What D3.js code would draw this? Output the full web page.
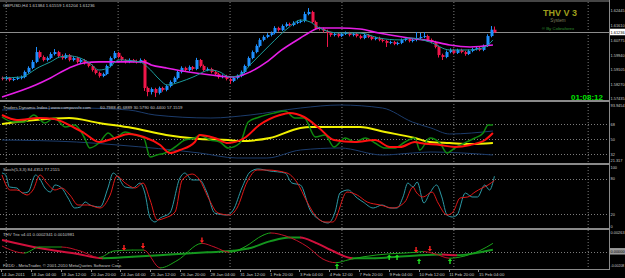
<!DOCTYPE html>
<html>
<head>
<meta charset="utf-8">
<script src="https://cdnjs.cloudflare.com/ajax/libs/d3/7.8.5/d3.min.js"></script>
<style>
  body { margin: 0; background: #000; }
  svg { display: block; font-family: 'Liberation Sans', Arial, sans-serif; }
</style>
</head>
<body>
<main></main>
<script>
// GBPUSD H4 candles, bar 0 = 14 Jan 2011 20:00
const opens = [1.5864, 1.5858, 1.5864, 1.5852, 1.5858, 1.5864, 1.5869, 1.5898, 1.5921, 1.5955, 1.6011, 1.5983, 1.5966, 1.5977, 1.6000, 1.6011, 1.5989, 1.5977, 1.5994, 1.5966, 1.5977, 1.5955, 1.5966, 1.5949, 1.5932, 1.5909, 1.5892, 1.5875, 1.5886, 1.5932, 1.5977, 1.6006, 1.5983, 1.5966, 1.5955, 1.5966, 1.5960, 1.5955, 1.5966, 1.5807, 1.5784, 1.5801, 1.5779, 1.5807, 1.5796, 1.5818, 1.5841, 1.5864, 1.5898, 1.5921, 1.5909, 1.5926, 1.5915, 1.5966, 1.5932, 1.5909, 1.5915, 1.5898, 1.5886, 1.5869, 1.5875, 1.5858, 1.5847, 1.5864, 1.5875, 1.5898, 1.5932, 1.5977, 1.6011, 1.6046, 1.6080, 1.6097, 1.6108, 1.6119, 1.6148, 1.6136, 1.6159, 1.6170, 1.6165, 1.6176, 1.6182, 1.6188, 1.6227, 1.6239, 1.6182, 1.6148, 1.6142, 1.6131, 1.6119, 1.6108, 1.6114, 1.6102, 1.6114, 1.6119, 1.6108, 1.6114, 1.6102, 1.6091, 1.6108, 1.6097, 1.6085, 1.6091, 1.6080, 1.6074, 1.6063, 1.6068, 1.6057, 1.6063, 1.6080, 1.6085, 1.6074, 1.6080, 1.6091, 1.6097, 1.6102, 1.6080, 1.6068, 1.6040, 1.5994, 1.5983, 1.6011, 1.6023, 1.6006, 1.6023, 1.6011, 1.6000, 1.6017, 1.6028, 1.6034, 1.6023, 1.6046, 1.6102, 1.6138]
const highs = [1.5872, 1.5875, 1.5870, 1.5866, 1.5872, 1.5878, 1.5906, 1.5930, 1.5966, 1.6040, 1.6020, 1.5992, 1.5986, 1.6010, 1.6028, 1.6018, 1.5998, 1.6004, 1.6000, 1.5986, 1.5984, 1.5975, 1.5972, 1.5956, 1.5940, 1.5916, 1.5900, 1.5894, 1.5940, 1.5986, 1.6017, 1.6012, 1.5990, 1.5972, 1.5975, 1.5972, 1.5968, 1.5975, 1.5972, 1.5815, 1.5810, 1.5808, 1.5815, 1.5814, 1.5826, 1.5850, 1.5872, 1.5906, 1.5930, 1.5928, 1.5935, 1.5932, 1.5978, 1.5972, 1.5940, 1.5924, 1.5922, 1.5905, 1.5893, 1.5884, 1.5882, 1.5865, 1.5872, 1.5884, 1.5906, 1.5940, 1.5986, 1.6020, 1.6055, 1.6090, 1.6106, 1.6118, 1.6128, 1.6158, 1.6155, 1.6168, 1.6180, 1.6178, 1.6186, 1.6190, 1.6196, 1.6240, 1.6261, 1.6246, 1.6190, 1.6155, 1.6150, 1.6138, 1.6126, 1.6122, 1.6120, 1.6122, 1.6128, 1.6126, 1.6122, 1.6120, 1.6110, 1.6116, 1.6114, 1.6104, 1.6098, 1.6098, 1.6087, 1.6080, 1.6076, 1.6075, 1.6070, 1.6088, 1.6094, 1.6092, 1.6088, 1.6125, 1.6120, 1.6125, 1.6110, 1.6088, 1.6075, 1.6048, 1.6002, 1.6020, 1.6032, 1.6030, 1.6030, 1.6030, 1.6018, 1.6025, 1.6036, 1.6042, 1.6040, 1.6054, 1.6112, 1.6159, 1.6156]
const lows = [1.5850, 1.5852, 1.5844, 1.5846, 1.5852, 1.5856, 1.5862, 1.5890, 1.5914, 1.5948, 1.5975, 1.5958, 1.5958, 1.5970, 1.5992, 1.5980, 1.5968, 1.5970, 1.5958, 1.5958, 1.5946, 1.5948, 1.5940, 1.5924, 1.5900, 1.5884, 1.5866, 1.5868, 1.5880, 1.5925, 1.5970, 1.5975, 1.5958, 1.5946, 1.5948, 1.5952, 1.5946, 1.5948, 1.5790, 1.5760, 1.5770, 1.5756, 1.5770, 1.5786, 1.5788, 1.5810, 1.5834, 1.5856, 1.5890, 1.5900, 1.5902, 1.5906, 1.5908, 1.5924, 1.5900, 1.5902, 1.5890, 1.5878, 1.5860, 1.5862, 1.5850, 1.5830, 1.5840, 1.5856, 1.5868, 1.5890, 1.5925, 1.5970, 1.6004, 1.6038, 1.6072, 1.6090, 1.6100, 1.6112, 1.6128, 1.6130, 1.6152, 1.6158, 1.6158, 1.6170, 1.6175, 1.6180, 1.6220, 1.6175, 1.6140, 1.6134, 1.6122, 1.6040, 1.6098, 1.6100, 1.6094, 1.6096, 1.6108, 1.6100, 1.6100, 1.6094, 1.6084, 1.6084, 1.6090, 1.6078, 1.6078, 1.6072, 1.6066, 1.6040, 1.6056, 1.6050, 1.6050, 1.6056, 1.6072, 1.6066, 1.6066, 1.6072, 1.6084, 1.6090, 1.6072, 1.6060, 1.6032, 1.5980, 1.5966, 1.5976, 1.6004, 1.5998, 1.6000, 1.6004, 1.5990, 1.5994, 1.6010, 1.6020, 1.6016, 1.6016, 1.6040, 1.6095, 1.6120]
const closes = [1.5858, 1.5864, 1.5852, 1.5858, 1.5864, 1.5869, 1.5898, 1.5921, 1.5955, 1.6011, 1.5983, 1.5966, 1.5977, 1.6000, 1.6011, 1.5989, 1.5977, 1.5994, 1.5966, 1.5977, 1.5955, 1.5966, 1.5949, 1.5932, 1.5909, 1.5892, 1.5875, 1.5886, 1.5932, 1.5977, 1.6006, 1.5983, 1.5966, 1.5955, 1.5966, 1.5960, 1.5955, 1.5966, 1.5807, 1.5784, 1.5801, 1.5779, 1.5807, 1.5796, 1.5818, 1.5841, 1.5864, 1.5898, 1.5921, 1.5909, 1.5926, 1.5915, 1.5966, 1.5932, 1.5909, 1.5915, 1.5898, 1.5886, 1.5869, 1.5875, 1.5858, 1.5847, 1.5864, 1.5875, 1.5898, 1.5932, 1.5977, 1.6011, 1.6046, 1.6080, 1.6097, 1.6108, 1.6119, 1.6148, 1.6136, 1.6159, 1.6170, 1.6165, 1.6176, 1.6182, 1.6188, 1.6227, 1.6239, 1.6182, 1.6148, 1.6142, 1.6131, 1.6119, 1.6108, 1.6114, 1.6102, 1.6114, 1.6119, 1.6108, 1.6114, 1.6102, 1.6091, 1.6108, 1.6097, 1.6085, 1.6091, 1.6080, 1.6074, 1.6063, 1.6068, 1.6057, 1.6063, 1.6080, 1.6085, 1.6074, 1.6080, 1.6091, 1.6097, 1.6102, 1.6080, 1.6068, 1.6040, 1.5994, 1.5983, 1.6011, 1.6023, 1.6006, 1.6023, 1.6011, 1.6000, 1.6017, 1.6028, 1.6034, 1.6023, 1.6046, 1.6102, 1.6138, 1.61236]

// moving averages, [bar, price]
const fastMA = [[0, 1.5864], [5, 1.5869], [10, 1.5926], [13, 1.5955], [15.5, 1.5983], [18, 1.5989], [21, 1.5977], [23.5, 1.5949], [26, 1.5909], [29, 1.5926], [30.3, 1.5955], [31.6, 1.5966], [37, 1.5955], [39, 1.5926], [42.4, 1.5852], [44.2, 1.5824], [47.7, 1.5841], [51.2, 1.5869], [55.8, 1.5909], [58.4, 1.5898], [61, 1.5869], [63.8, 1.5881], [66.5, 1.5938], [71.8, 1.6051], [77, 1.6153], [80, 1.6193], [82.6, 1.6182], [85, 1.6148], [90.6, 1.6119], [96, 1.6119], [101, 1.6091], [106.7, 1.6080], [109.4, 1.6091], [114.7, 1.6068], [120, 1.6023], [125.5, 1.6023], [129.5, 1.6040], [131.6, 1.6080]]
const slowMA = [[0, 1.5756], [9, 1.5824], [13, 1.5864], [18, 1.5921], [22, 1.5949], [26, 1.5955], [38, 1.5955], [40, 1.5938], [44, 1.5921], [50, 1.5898], [56, 1.5881], [62, 1.5869], [66.5, 1.5898], [71, 1.5955], [75, 1.6023], [80, 1.6091], [82.6, 1.6125], [85, 1.6148], [90.6, 1.6148], [96, 1.6142], [101, 1.6119], [109, 1.6091], [115, 1.6074], [120, 1.6051], [125.5, 1.6040], [131.6, 1.6051]]
const priceTicks = [1.62445, 1.61610, 1.60775, 1.59940, 1.59105, 1.58270, 1.57435]
const lastPrice = 1.61236

// Traders Dynamic Index, [bar, value]
const tdiUpper = [[0, 84.8], [20, 87.2], [34, 84.8], [41, 78.8], [56, 75.2], [66.5, 78.8], [80, 87.2], [90.6, 90.8], [102, 87.2], [110, 70.4], [115, 63.2], [120, 56], [131.6, 59.6]]
const tdiLower = [[0, 48.8], [20, 46.4], [31, 42.8], [53, 33.2], [63, 27.2], [71, 27.2], [80, 36.8], [90.6, 39.2], [102, 30.8], [110, 33.2], [115, 34.4], [131.6, 30.8]]
const tdiBase = [[0, 68], [9, 72.8], [18, 75.2], [26, 69.2], [35, 63.2], [44, 54.8], [53, 50], [60.6, 48.8], [63.8, 47.6], [71.8, 51.2], [80, 63.2], [82.6, 64.4], [90.6, 64.4], [96, 64.4], [102.7, 58.4], [110.7, 51.2], [114.7, 46.4], [120, 45.2], [125.5, 44], [131.6, 45.2]]
const tdiSignal = [[0, 78.8], [4, 72.8], [10, 75.2], [14, 74], [18, 66.8], [22, 57.2], [26, 46.4], [30.3, 51.2], [34, 56], [38, 52.4], [42.4, 42.8], [45, 33.2], [47.7, 36.8], [51.7, 46.4], [53, 54.8], [57, 51.2], [60.6, 45.2], [65, 51.2], [69, 66.8], [74.5, 78.8], [77, 81.2], [81, 76.4], [85, 63.2], [89, 48.8], [94.6, 46.4], [100, 48.8], [104, 40.4], [106.7, 40.4], [110.7, 46.4], [112, 45.2], [117.4, 42.8], [121.4, 40.4], [125.5, 42.8], [129.5, 48.8], [131.6, 57.2]]
const tdiRsi = [[0, 76.4], [3, 70.4], [6, 70.4], [8.5, 78.8], [11.5, 69.2], [14, 75.2], [17, 64.4], [19.5, 66.8], [22, 52.4], [23.5, 39.2], [26, 45.2], [28.5, 57.2], [30.3, 51.2], [33, 58.4], [35.7, 54.8], [38, 51.2], [39.7, 28.4], [41.5, 30.8], [43.7, 33.2], [46.4, 40.4], [49, 48.8], [51.7, 51.2], [53, 54.8], [55.8, 48.8], [58.4, 46.4], [60.6, 39.2], [63.8, 45.2], [66, 70.4], [69, 76.4], [73, 81.2], [75.9, 83.6], [78.5, 75.2], [81, 75.2], [84, 52.4], [86.6, 54.8], [89, 40.4], [92, 51.2], [94.6, 46.4], [97.4, 51.2], [100, 45.2], [102.7, 39.2], [105.4, 39.2], [108, 46.4], [110.7, 51.2], [112, 36.8], [114.7, 51.2], [117.4, 45.2], [119.3, 33.2], [121.4, 39.2], [124, 45.2], [126.8, 51.2], [129, 57.2], [130.3, 66.8], [131.6, 66.8]]
const tdiLevels = [68, 50, 32]

// Stochastic(5,3,3), [bar, value]
const stochMain = [[0, 89.8], [1, 86.4], [2, 66.1], [4, 64.4], [5.5, 55.9], [7, 57.6], [9, 86.4], [10, 81.4], [11.5, 64.4], [13, 57.6], [14.2, 69.5], [16, 64.4], [17.7, 47.5], [19.5, 30.5], [21, 32.2], [22.3, 40.7], [23.6, 35.6], [26.3, 32.2], [28.4, 64.4], [29.8, 89.8], [31.1, 83], [33, 66.1], [35.1, 64.4], [37, 72.9], [38.3, 55.9], [39.7, 13.6], [41, 6.8], [42.4, 13.6], [45, 22], [47.7, 81.4], [49, 89.8], [51, 78], [53, 78], [55, 55.9], [57, 22], [60.3, 18.6], [62, 27.1], [64.3, 64.4], [66.5, 91.5], [68.6, 96.6], [71.8, 93.2], [75.9, 89.8], [77.7, 72.9], [80, 69.5], [82.6, 27.1], [85.2, 10.2], [87.4, 5.1], [89.3, 23.7], [90.6, 55.9], [92.8, 61], [95.2, 47.5], [96.8, 40.7], [99.5, 30.5], [101.9, 35.6], [104, 30.5], [105.9, 30.5], [107.5, 49.2], [108.8, 72.9], [110.2, 66.1], [111.3, 74.6], [113.1, 39], [114.7, 55.9], [116.5, 69.5], [117.9, 49.2], [119.3, 18.6], [120.7, 15.3], [122, 18.6], [124.2, 55.9], [126, 49.2], [127.5, 49.2], [129.4, 69.5], [130.7, 61], [132, 84.4]]
const stochSignal = [[0, 86.4], [2.2, 61], [4, 61], [6.7, 52.5], [8.3, 61], [10.2, 86.4], [12, 72.9], [14.2, 61], [16, 64.4], [18.2, 52.5], [20.4, 35.6], [23, 35.6], [26.3, 30.5], [29, 52.5], [30.8, 84.7], [33, 72.9], [35.7, 64.4], [37.8, 72.9], [39.7, 44], [41.6, 10.2], [43.7, 13.6], [46.4, 23.7], [48.3, 78], [51, 88.1], [53, 78], [55.2, 49.2], [57.9, 22], [61, 18.6], [63, 30.5], [65.7, 74.6], [68.4, 94.9], [71, 94.9], [76.4, 89.8], [79, 74.6], [81.8, 40.7], [83.9, 18.6], [86.6, 6.8], [88.7, 6.8], [92.5, 57.6], [95.2, 52.5], [97.9, 40.7], [101.4, 35.6], [104.8, 30.5], [108, 40.7], [110.2, 66.1], [111, 57.6], [112.9, 49.2], [115.3, 57.6], [116.9, 39], [119.3, 18.6], [120.9, 23.7], [122.8, 47.5], [124.9, 49.2], [126.8, 57.6], [128.7, 64.4], [130.3, 69.5], [132, 77.2]]
const stochLevels = [80, 20]

// THV Trix, [bar, value]
const trixSlow = [[0, 0.00155], [10, 0.00047], [20, -0.0003], [27, -0.0009], [35, -0.0007], [45, -0.0004], [55, -0.0001], [62, 0.0001], [66, 0.0004], [72, 0.0014], [77, 0.0019], [80, 0.0019], [84, 0.0012], [89, 0.0000], [94, -0.0009], [100, -0.0009], [106, -0.0007], [112, -0.0005], [118, -0.0004], [122, -0.0005], [127, -0.0002], [131.6, 0.00023]]
const trixFast = [[0, 0.00074], [6, -0.0002], [10, 0.00061], [16, 0.00061], [21, 0.00007], [26, -0.0008], [30, 0.00007], [35, 0.0002], [38, 0.0002], [42.4, -0.0022], [47, -0.0012], [53.6, 0.0011], [57, 0.0006], [61, -0.0001], [65, 0.0006], [70, 0.0022], [72, 0.0025], [76, 0.0021], [82, 0.0006], [86, -0.001], [89.5, -0.0015], [93, -0.0011], [97, -0.0007], [104, -0.0003], [108, -0.0002], [111, -0.0001], [113, 0.0000], [116, -0.0003], [120, -0.0009], [124, -0.0006], [128, 0.0001], [131.6, 0.0011]]
const trixSells = [[32.7, 0.00047], [37.8, 0.00074], [53.6, 0.0015], [111, 0.0002], [114.7, 0.00034]]
const trixBuys = [[89.8, -0.00195], [103.8, -0.00074], [105.9, -0.00074], [111.8, -0.00128], [120.1, -0.00128]]

const timeLabels = ['14 Jan 2011', '18 Jan 04:00', '19 Jan 12:00', '20 Jan 20:00', '24 Jan 04:00', '25 Jan 12:00', '26 Jan 20:00', '28 Jan 04:00', '31 Jan 12:00', '1 Feb 20:00', '3 Feb 04:00', '4 Feb 12:00', '7 Feb 20:00', '9 Feb 04:00', '10 Feb 12:00', '11 Feb 20:00', '15 Feb 04:00']
const weekStarts = [1, 31, 61, 91, 121, 157]

const width = 625
const height = 278
const plotRight = 609
const panels = {
  main: [2, 100],
  tdi: [102, 163],
  stoch: [165, 228],
  trix: [230, 269]
}
const txt = '#c8c8c8'
const grid = '#7c7c7c'
const fs = '4.3px'

const svg = d3.select('main')
  .append('svg')
  .attr('width', width)
  .attr('height', height)
  .style('background', '#000')
const defs = svg.append('defs')

const x = d3.scaleLinear().domain([0, 132]).range([2, 494.4])
const py = d3.scaleLinear().domain([1.575, 1.625]).range([98, 10])
const ty = d3.scaleLinear().domain([32, 68]).range([154, 124])
const sy = d3.scaleLinear().domain([0, 100]).range([226, 167])
const ry = d3.scaleLinear().domain([-0.00208, 0.00263]).range([267, 232])

// clip areas per panel
Object.keys(panels).forEach(k => {
  defs.append('clipPath')
    .attr('id', 'clip-' + k)
    .append('rect')
    .attr('x', 0)
    .attr('y', panels[k][0])
    .attr('width', plotRight)
    .attr('height', panels[k][1] - panels[k][0])
})
const layer = k => svg.append('g').attr('clip-path', 'url(#clip-' + k + ')')

// vertical weekly grid
svg.append('g')
  .selectAll('line')
  .data(weekStarts)
  .enter()
  .append('line')
  .attr('x1', d => x(d) + 0.5)
  .attr('x2', d => x(d) + 0.5)
  .attr('y1', 2)
  .attr('y2', 269)
  .style('stroke', grid)
  .style('stroke-width', 1)
  .style('stroke-dasharray', '1,2')

// horizontal levels
function levels (scale, vals) {
  svg.append('g')
    .selectAll('line')
    .data(vals)
    .enter()
    .append('line')
    .attr('x1', 0)
    .attr('x2', plotRight)
    .attr('y1', d => Math.round(scale(d)) + 0.5)
    .attr('y2', d => Math.round(scale(d)) + 0.5)
    .style('stroke', grid)
    .style('stroke-dasharray', '1,2')
}
levels(ty, tdiLevels)
levels(sy, stochLevels)
levels(ry, [0])

// current price line
svg.append('line')
  .attr('x1', 0)
  .attr('x2', plotRight)
  .attr('y1', Math.round(py(lastPrice)) + 0.5)
  .attr('y2', Math.round(py(lastPrice)) + 0.5)
  .style('stroke', '#8c8c8c')

function knotLine (g, scale, knots, color, w) {
  g.append('path')
    .datum(knots)
    .attr('fill', 'none')
    .style('stroke', color)
    .style('stroke-width', w)
    .attr('d', d3.line().x(d => x(d[0])).y(d => scale(d[1])).curve(d3.curveMonotoneX))
}

// candles
const gMain = layer('main')
const bars = d3.range(closes.length)
const bull = '#1e90ff'
const bear = '#f0164a'
gMain.selectAll('.wick')
  .data(bars)
  .enter()
  .append('line')
  .attr('class', 'wick')
  .attr('x1', i => Math.round(x(i)) + 0.5)
  .attr('x2', i => Math.round(x(i)) + 0.5)
  .attr('y1', i => py(highs[i]))
  .attr('y2', i => py(lows[i]))
  .style('stroke', i => closes[i] >= opens[i] ? bull : bear)
gMain.selectAll('.body')
  .data(bars)
  .enter()
  .append('rect')
  .attr('class', 'body')
  .attr('x', i => Math.round(x(i)) - 0.5)
  .attr('width', 3)
  .attr('y', i => py(Math.max(opens[i], closes[i])))
  .attr('height', i => Math.max(1, Math.abs(py(opens[i]) - py(closes[i]))))
  .style('fill', i => closes[i] >= opens[i] ? bull : bear)
knotLine(gMain, py, slowMA, '#e61ee6', 1.6)
knotLine(gMain, py, fastMA, '#1b9b9b', 1)

// TDI
const gTdi = layer('tdi')
knotLine(gTdi, ty, tdiUpper, '#1c3c6c', 1)
knotLine(gTdi, ty, tdiLower, '#1c3c6c', 1)
knotLine(gTdi, ty, tdiBase, '#f0f000', 2)
knotLine(gTdi, ty, tdiRsi, '#0f8a0f', 1.5)
knotLine(gTdi, ty, tdiSignal, '#ff1010', 2)

// Stochastic
const gSto = layer('stoch')
knotLine(gSto, sy, stochMain, '#2c9aa6', 1)
knotLine(gSto, sy, stochSignal, '#e01818', 1)

// Trix, coloured by slope
const gTrix = layer('trix')
let clipN = 0
function trixLine (knots, w, up, down) {
  const line = d3.line().x(d => x(d[0])).y(d => ry(d[1])).curve(d3.curveMonotoneX)
  for (let k = 0; k < knots.length - 1; k++) {
    const id = 'tc' + (clipN++)
    defs.append('clipPath')
      .attr('id', id)
      .append('rect')
      .attr('x', x(knots[k][0]) - 0.3)
      .attr('y', 229)
      .attr('width', x(knots[k + 1][0]) - x(knots[k][0]) + 0.6)
      .attr('height', 41)
    gTrix.append('path')
      .datum(knots)
      .attr('clip-path', 'url(#' + id + ')')
      .attr('fill', 'none')
      .style('stroke', knots[k + 1][1] >= knots[k][1] ? up : down)
      .style('stroke-width', w)
      .attr('d', line)
  }
}
trixLine(trixSlow, 2, '#14961e', '#d0103c')
trixLine(trixFast, 1, '#1aa51a', '#c01028')

function arrow (g, data, color, dir) {
  g.selectAll(null)
    .data(data)
    .enter()
    .append('path')
    .attr('transform', d => 'translate(' + x(d[0]) + ',' + ry(d[1]) + ') scale(1,' + dir + ')')
    .attr('d', 'M-0.7,-3 L0.7,-3 L0.7,0 L2.2,0 L0,2.6 L-2.2,0 L-0.7,0 Z')
    .style('fill', color)
}
arrow(gTrix, trixSells, '#ff2020', 1)
arrow(gTrix, trixBuys, '#20e020', -1)

// frame lines
const frame = svg.append('g').style('stroke', '#8a8a8a')
frame.append('line').attr('x1', 0).attr('x2', plotRight).attr('y1', 1).attr('y2', 1)
;[101, 164, 229].forEach(yy => {
  frame.append('line').attr('x1', 0).attr('x2', plotRight).attr('y1', yy).attr('y2', yy).style('stroke-width', 2)
})
frame.append('line').attr('x1', 0).attr('x2', plotRight).attr('y1', 269.5).attr('y2', 269.5)
frame.append('line').attr('x1', plotRight + 0.5).attr('x2', plotRight + 0.5).attr('y1', 0).attr('y2', 270)

// right axis labels: [text, y of baseline]
const axisG = svg.append('g')
  .style('fill', txt)
function axisLabels (items) {
  axisG.selectAll(null)
    .data(items)
    .enter()
    .append('text')
    .attr('x', plotRight + 1.5)
    .attr('y', d => d[1])
    .style('font-size', d => d[0].length > 7 ? '3.5px' : '3.9px')
    .text(d => d[0])
}
axisLabels(priceTicks.map(v => [v.toFixed(5), Math.min(py(v) + 1.5, 100)]))
axisLabels([['93.9454', 106.5], ['21.317', 162]].concat(tdiLevels.map(v => [String(v), ty(v) + 1.5])))
axisLabels([['100', 169], ['80', sy(80) + 1.5], ['20', sy(20) + 1.5], ['0', 227.5]])
axisLabels([['0.00263', 234], ['-0.00208', 266.5]])

// last price / last trix markers
function valueBox (yy, label, fill) {
  svg.append('rect')
    .attr('x', plotRight + 1)
    .attr('y', yy - 3.5)
    .attr('width', 15)
    .attr('height', 6.5)
    .style('fill', fill)
  svg.append('text')
    .attr('x', plotRight + 1.5)
    .attr('y', yy + 1.5)
    .style('font-size', '3.9px')
    .style('fill', '#000')
    .text(label)
}
valueBox(py(lastPrice), lastPrice.toFixed(5), '#fff')
valueBox(ry(0), '0.00000', '#9a9a9a')

// time axis
const tg = svg.append('g')
tg.selectAll('text')
  .data(timeLabels)
  .enter()
  .append('text')
  .attr('x', (d, k) => x(k * 8) - 0.5)
  .attr('y', 276)
  .style('font-size', fs)
  .style('fill', txt)
  .text(d => d)
tg.selectAll('line')
  .data(timeLabels)
  .enter()
  .append('line')
  .attr('x1', (d, k) => Math.round(x(k * 8)) - 0.5)
  .attr('x2', (d, k) => Math.round(x(k * 8)) - 0.5)
  .attr('y1', 270)
  .attr('y2', 272)
  .style('stroke', '#8a8a8a')

// panel captions
const cap = svg.append('g').style('font-size', fs).style('fill', txt)
cap.append('text').attr('x', 3).attr('y', 7).text('GBPUSD,H4  1.61384 1.61559 1.61204 1.61236')
cap.append('text').attr('x', 3).attr('y', 109).text('Traders Dynamic Index | www.compassfx.com')
cap.append('text').attr('x', 100).attr('y', 109).text('60.7988 45.6889 30.5790 60.4400 57.1519')
cap.append('text').attr('x', 3).attr('y', 171).text('Stoch(5,3,3) 84.4351 77.2115')
cap.append('text').attr('x', 3).attr('y', 236).text('THV Trix v4.01 0.0002341 0.0010981')
cap.append('text').attr('x', 3).attr('y', 267).text('FXDD - MetaTrader, \u00a9 2001-2010 MetaQuotes Software Corp.')

// THV branding and clock
svg.append('text')
  .attr('x', 560)
  .attr('y', 16)
  .attr('text-anchor', 'middle')
  .style('font-size', '9px')
  .style('font-weight', 'bold')
  .style('fill', '#9e9e1c')
  .text('THV V 3')
svg.append('text')
  .attr('x', 558)
  .attr('y', 22)
  .attr('text-anchor', 'middle')
  .style('font-size', '4.6px')
  .style('fill', '#7c7c5c')
  .text('System')
svg.append('text')
  .attr('x', 558)
  .attr('y', 29.5)
  .attr('text-anchor', 'middle')
  .style('font-size', '4.4px')
  .style('fill', '#2f8f2f')
  .text('\u00ae By Cobraforex')
svg.append('text')
  .attr('x', 603)
  .attr('y', 99.5)
  .attr('text-anchor', 'end')
  .style('font-size', '8px')
  .style('font-weight', 'bold')
  .style('fill', '#00e000')
  .text('01:08:12')
</script>
</body>
</html>
